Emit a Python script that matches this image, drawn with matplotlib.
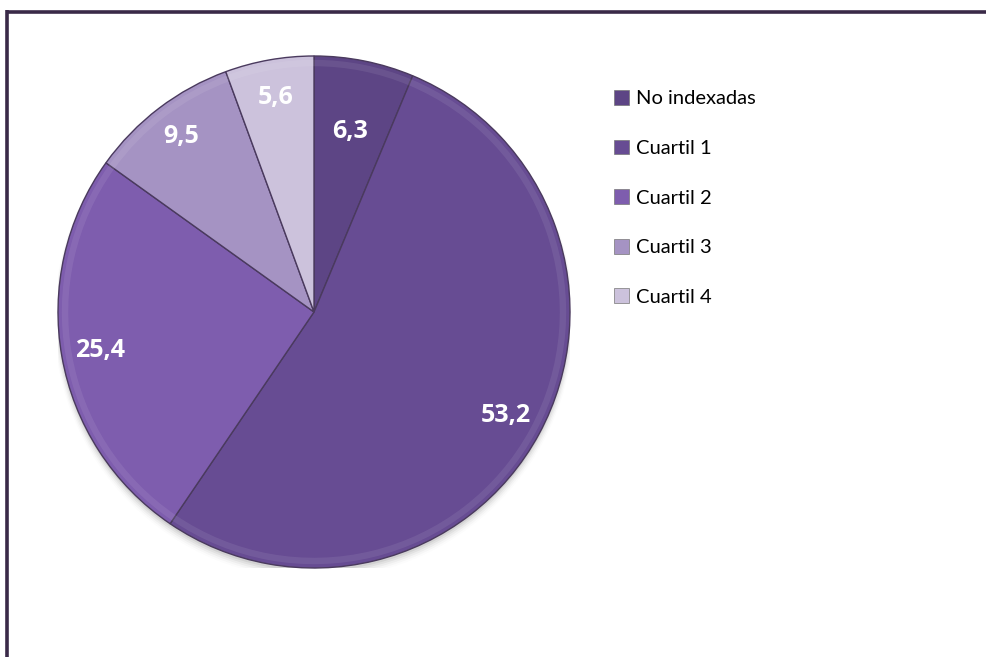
import matplotlib
matplotlib.use("Agg")
import matplotlib.pyplot as plt
import numpy as np
from matplotlib.lines import Line2D
from matplotlib.patches import Patch, Wedge, Circle

categories = ["No indexadas", "Cuartil 1", "Cuartil 2", "Cuartil 3", "Cuartil 4"]
values = [6.3, 53.2, 25.4, 9.5, 5.6]
value_labels = ["6,3", "53,2", "25,4", "9,5", "5,6"]

colors = ["#5D4585", "#674C93", "#7E5DAE", "#A593C3", "#CCC2DC"]
label_dist = [0.72, 0.85, 0.85, 0.86, 0.85]

plt.rcParams['font.family'] = ['Lato', 'DejaVu Sans']

fig = plt.figure(figsize=(9.87, 6.57), dpi=100)
W, H = 987, 657
cx, cy, R = 314, 312, 256
ax = fig.add_axes([(cx - R) / W, (H - cy - R) / H, 2 * R / W, 2 * R / H])

# soft shadow
for i, a in enumerate(np.linspace(0.06, 0.01, 5)):
    ax.add_patch(Circle((0.0, -0.012 - i * 0.004), 1.0 + i * 0.004, color='black',
                        alpha=a, zorder=0, lw=0))

wedges, _ = ax.pie(values, colors=colors, startangle=90, counterclock=False, radius=1.0,
                   wedgeprops=dict(edgecolor='#4A3A5E', linewidth=1.0), center=(0, 0))
for w in wedges:
    w.set_zorder(2)

# bevel highlight ring
for w in wedges:
    ax.add_patch(Wedge((0, 0), 0.985, w.theta1, w.theta2, width=0.025,
                       facecolor='white', alpha=0.08, lw=0, zorder=3))

ax.set_xlim(-1, 1)
ax.set_ylim(-1, 1)
ax.set_aspect('equal')
ax.axis('off')

total = sum(values)
start = 90.0
for v, lab, d in zip(values, value_labels, label_dist):
    span = v / total * 360
    mid = np.deg2rad(start - span / 2)
    ax.text(d * np.cos(mid), d * np.sin(mid), lab, ha='center', va='center',
            color='white', fontsize=18, fontweight='bold', zorder=5,
            family=['Open Sans', 'DejaVu Sans'])
    start -= span

handles = [Patch(facecolor=c, edgecolor='#777777', linewidth=0.5) for c in colors]
fig.legend(handles, categories, loc='upper left', bbox_to_anchor=(614 / W, 1 - 90 / H),
           frameon=False, fontsize=14.5, handlelength=0.75, handleheight=0.75,
           handletextpad=0.35, labelspacing=1.6, borderaxespad=0, borderpad=0)

# border (top and left)
fig.add_artist(Line2D([7.5 / W, 1.0], [1 - 11.5 / H, 1 - 11.5 / H], color='#3A2A48', lw=2.6,
                      transform=fig.transFigure, solid_capstyle='butt'))
fig.add_artist(Line2D([7.5 / W, 7.5 / W], [1 - 10 / H, 0.0], color='#3A2A48', lw=2.6,
                      transform=fig.transFigure, solid_capstyle='butt'))

fig.savefig("out.png", dpi=100)
